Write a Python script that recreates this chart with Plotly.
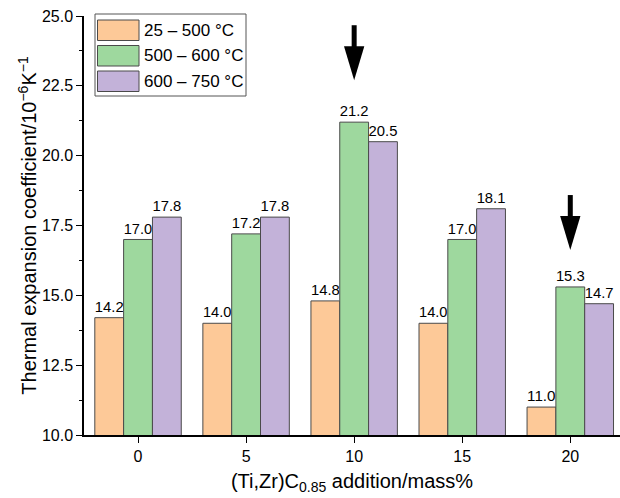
import plotly.graph_objects as go

# ---- data ----
additions = [0, 5, 10, 15, 20]
series_names = ["25 – 500 °C", "500 – 600 °C", "600 – 750 °C"]
cte_25_500 = [14.2, 14.0, 14.8, 14.0, 11.0]
cte_500_600 = [17.0, 17.2, 21.2, 17.0, 15.3]
cte_600_750 = [17.8, 17.8, 20.5, 18.1, 14.7]
y_ticks = [10.0, 12.5, 15.0, 17.5, 20.0, 22.5, 25.0]
arrow_x = [10, 20]
arrow_top = [24.67, 18.59]
arrow_tip = [22.70, 16.62]

colors = ["#FDC998", "#9ED89E", "#C3B2D9"]
edge = "#4a4a4a"
FONT = "Liberation Sans, Arial, Helvetica, sans-serif"

W, H = 620, 498
ML, MR, MT, MB = 84, 0, 16, 63
PW, PH = W - ML - MR, H - MT - MB

def px(x):
    return (x - ML) / PW

def py(y):
    return (H - MB - y) / PH

fig = go.Figure()
for name, vals, col in zip(series_names, [cte_25_500, cte_500_600, cte_600_750], colors):
    fig.add_trace(go.Bar(
        x=additions, y=vals, name=name,
        marker=dict(color=col, line=dict(color=edge, width=1)),
        text=[f"{v:.1f}" for v in vals], textposition="outside",
        textfont=dict(family=FONT, size=15.5, color="black"),
        cliponaxis=False, showlegend=False,
    ))

shapes = []
annotations = []
# arrows
for ax_, top, tip in zip(arrow_x, arrow_top, arrow_tip):
    head_len = 1.22
    half_w = 0.47
    shapes.append(dict(type="line", xref="x", yref="y", x0=ax_, x1=ax_, y0=top, y1=tip + head_len * 0.9,
                       line=dict(color="black", width=5)))
    shapes.append(dict(type="path", xref="x", yref="y",
                       path=f"M {ax_-half_w},{tip+head_len} L {ax_+half_w},{tip+head_len} L {ax_},{tip} Z",
                       fillcolor="black", line=dict(color="black", width=0)))

# custom legend
shapes.append(dict(type="rect", xref="paper", yref="paper", x0=px(95), x1=px(246), y0=py(96), y1=py(14),
                   line=dict(color="#555555", width=1), fillcolor="white", layer="above"))
row_tops = [20, 45.5, 71]
for name, col, rt in zip(series_names, colors, row_tops):
    shapes.append(dict(type="rect", xref="paper", yref="paper", x0=px(97.5), x1=px(139), y0=py(rt + 20.5), y1=py(rt),
                       line=dict(color=edge, width=1), fillcolor=col, layer="above"))
    annotations.append(dict(xref="paper", yref="paper", x=px(142), y=py(rt + 10.5), text=name, showarrow=False,
                            xanchor="left", yanchor="middle", font=dict(family=FONT, size=17, color="black")))

fig.update_layout(
    width=W, height=H,
    margin=dict(l=ML, r=MR, t=MT, b=MB, autoexpand=False),
    plot_bgcolor="white", paper_bgcolor="white",
    barmode="group", bargap=0.2, bargroupgap=0,
    font=dict(family=FONT, color="black"),
    shapes=shapes, annotations=annotations,
    xaxis=dict(range=[-2.5, 22.3], tickvals=additions, ticktext=[str(a) for a in additions],
               ticks="outside", ticklen=6, tickwidth=1.3, tickcolor="black", automargin=False,
               showline=True, linecolor="black", linewidth=1.5, showgrid=False, zeroline=False,
               tickfont=dict(size=16),
               title=dict(text="(Ti,Zr)C<sub>0.85</sub> addition/mass%", font=dict(size=20), standoff=10)),
    yaxis=dict(range=[10, 25], tickvals=y_ticks, ticktext=[f"{t:.1f}" for t in y_ticks],
               ticks="outside", ticklen=6, tickwidth=1.3, tickcolor="black", automargin=False,
               minor=dict(ticks="outside", ticklen=3, tickwidth=1, tickcolor="black", dtick=1.25, showgrid=False),
               showline=True, linecolor="black", linewidth=1.5, showgrid=False, zeroline=False,
               tickfont=dict(size=16),
               title=dict(text="Thermal expansion coefficient/10<sup>−6</sup>K<sup>−1</sup>", font=dict(size=20), standoff=0)),
)

fig.write_html("out.html", config={"displayModeBar": False},
               post_script="document.body.style.margin='0';")
